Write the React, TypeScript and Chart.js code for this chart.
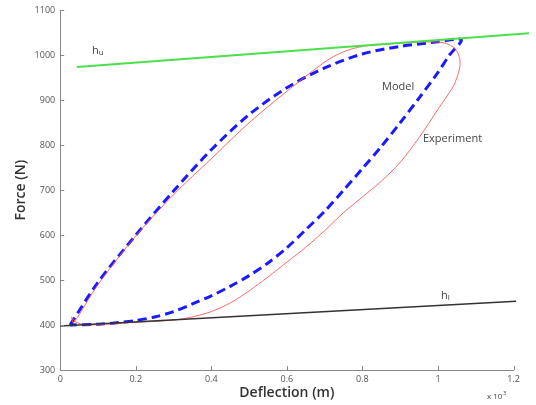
import React, { useEffect, useRef } from "react";
import { Chart, registerables } from "chart.js";

Chart.register(...registerables);

// Model (blue dashed): loading branch then unloading branch
const modelX = [0.026, 0.1, 0.2, 0.3, 0.4, 0.5, 0.6, 0.7, 0.8, 0.9, 1.0, 1.062,
  1.03, 1.0, 0.95, 0.9, 0.85, 0.8, 0.75, 0.7, 0.65, 0.6, 0.55, 0.5, 0.45, 0.4, 0.35, 0.3, 0.25, 0.2, 0.15, 0.1, 0.026];
const modelF = [400, 495, 600, 698, 790, 868, 928, 972, 1003, 1020, 1030, 1035,
  1000, 962, 905, 850, 797, 748, 700, 653, 612, 572, 538, 510, 486, 465, 447, 430, 418, 410, 405, 402, 400];

// Experiment (red thin)
const expX = [0.03, 0.035, 0.1, 0.2, 0.3, 0.4, 0.5, 0.6, 0.7, 0.75, 0.8, 0.85, 0.9, 0.98, 1.02, 1.045, 1.057, 1.058,
  1.05, 1.04, 1.0, 0.95, 0.9, 0.85, 0.8, 0.75, 0.7, 0.65, 0.6, 0.55, 0.5, 0.45, 0.4, 0.35, 0.3, 0.2, 0.1, 0.06, 0.04, 0.03];
const expF = [418, 405, 490, 598, 690, 770, 850, 920, 985, 1008, 1020, 1024, 1027, 1030, 1027, 1015, 995, 975,
  950, 930, 880, 817, 762, 720, 685, 650, 610, 573, 540, 507, 476, 449, 430, 418, 411, 406, 401, 401, 408, 418];

// Bounding lines
const huX = [0.044, 1.241];
const huF = [974, 1049];
const hlX = [0.0, 1.207];
const hlF = [398, 453];

const xTicks = [0, 0.2, 0.4, 0.6, 0.8, 1, 1.2];
const yTicks = [300, 400, 500, 600, 700, 800, 900, 1000, 1100];

const pts = (xs: number[], ys: number[]) => xs.map((x, i) => ({ x, y: ys[i] }));

const FONT = "'Open Sans', 'DejaVu Sans', sans-serif";

const overlay = {
  id: "overlay",
  afterDraw(chart: any) {
    const ctx = chart.ctx;
    const xs = chart.scales.x;
    const ys = chart.scales.y;
    const { left, bottom } = chart.chartArea;
    ctx.save();
    ctx.strokeStyle = "#888";
    ctx.lineWidth = 1;
    ctx.beginPath();
    for (const v of yTicks) {
      const y = Math.round(ys.getPixelForValue(v)) + 0.5;
      ctx.moveTo(left, y);
      ctx.lineTo(left + 4, y);
    }
    for (const v of xTicks) {
      const x = Math.round(xs.getPixelForValue(v)) + 0.5;
      ctx.moveTo(x, bottom);
      ctx.lineTo(x, bottom - 4);
    }
    ctx.stroke();

    ctx.fillStyle = "#444";
    ctx.textBaseline = "middle";
    ctx.textAlign = "left";
    const sub = (main: string, s: string, x: number, y: number) => {
      ctx.font = `11px ${FONT}`;
      ctx.fillText(main, x, y);
      const w = ctx.measureText(main).width;
      ctx.font = `8px ${FONT}`;
      ctx.fillText(s, x + w, y + 2);
    };
    sub("h", "u", 92, 51);
    sub("h", "l", 441, 296);
    ctx.font = `11px ${FONT}`;
    ctx.fillText("Model", 382, 87);
    ctx.fillText("Experiment", 423, 139);
    ctx.font = `8px ${FONT}`;
    ctx.fillText("x 10", 487, 397);
    const w = ctx.measureText("x 10").width;
    ctx.font = `6px ${FONT}`;
    ctx.fillText("3", 487 + w + 0.5, 393);
    ctx.restore();
  },
};

export default function App() {
  const ref = useRef<HTMLCanvasElement>(null);
  useEffect(() => {
    if (!ref.current) return;
    const chart = new Chart(ref.current, {
      type: "scatter",
      data: {
        datasets: [
          {
            label: "hu",
            data: pts(huX, huF),
            showLine: true,
            borderColor: "#4be04b",
            borderWidth: 2,
            pointRadius: 0,
            clip: false as any,
          },
          {
            label: "hl",
            data: pts(hlX, hlF),
            showLine: true,
            borderColor: "#333",
            borderWidth: 1.5,
            pointRadius: 0,
            clip: false as any,
          },
          {
            label: "Experiment",
            data: pts(expX, expF),
            showLine: true,
            borderColor: "rgba(255,80,80,0.85)",
            borderWidth: 1,
            pointRadius: 0,
            tension: 0.3,
          },
          {
            label: "Model",
            data: pts(modelX, modelF),
            showLine: true,
            borderColor: "#1a1aff",
            borderWidth: 3,
            borderDash: [9, 5],
            pointRadius: 0,
            tension: 0.3,
          },
        ],
      },
      options: {
        animation: false,
        responsive: false,
        layout: { padding: { left: 0, top: 10, right: 22.5, bottom: 0 } },
        plugins: { legend: { display: false }, tooltip: { enabled: false } },
        scales: {
          x: {
            type: "linear",
            min: 0,
            max: 1.2,
            afterFit: (s: any) => { s.height = 35; },
            afterBuildTicks: (s: any) => { s.ticks = xTicks.map((v) => ({ value: v })); },
            grid: { display: false, drawTicks: false },
            border: { display: true, color: "#888", width: 1 },
            ticks: {
              padding: 4,
              color: "#555",
              font: { size: 9, family: FONT },
              callback: (v: any) => String(Number(Number(v).toFixed(1))),
            },
            title: {
              display: true,
              text: "Deflection (m)",
              color: "#333",
              font: { size: 14, family: FONT, weight: "600" as any },
              padding: { top: 0, bottom: 4 },
            },
          },
          y: {
            type: "linear",
            min: 300,
            max: 1100,
            afterFit: (s: any) => { s.width = 60.2; },
            afterBuildTicks: (s: any) => { s.ticks = yTicks.map((v) => ({ value: v })); },
            grid: { display: false, drawTicks: false },
            border: { display: true, color: "#888", width: 1 },
            ticks: {
              padding: 5,
              color: "#555",
              font: { size: 9, family: FONT },
              callback: (v: any) => String(v),
            },
            title: {
              display: true,
              text: "Force (N)",
              color: "#333",
              font: { size: 14, family: FONT, weight: "600" as any },
              padding: { top: 13, bottom: 0 },
            },
          },
        },
      },
      plugins: [overlay],
    });
    return () => chart.destroy();
  }, []);
  return (
    <div style={{ position: "fixed", left: 0, top: 0, width: 536, height: 405, background: "#fff" }}>
      <canvas ref={ref} width={536} height={405} style={{ width: 536, height: 405 }} />
    </div>
  );
}
